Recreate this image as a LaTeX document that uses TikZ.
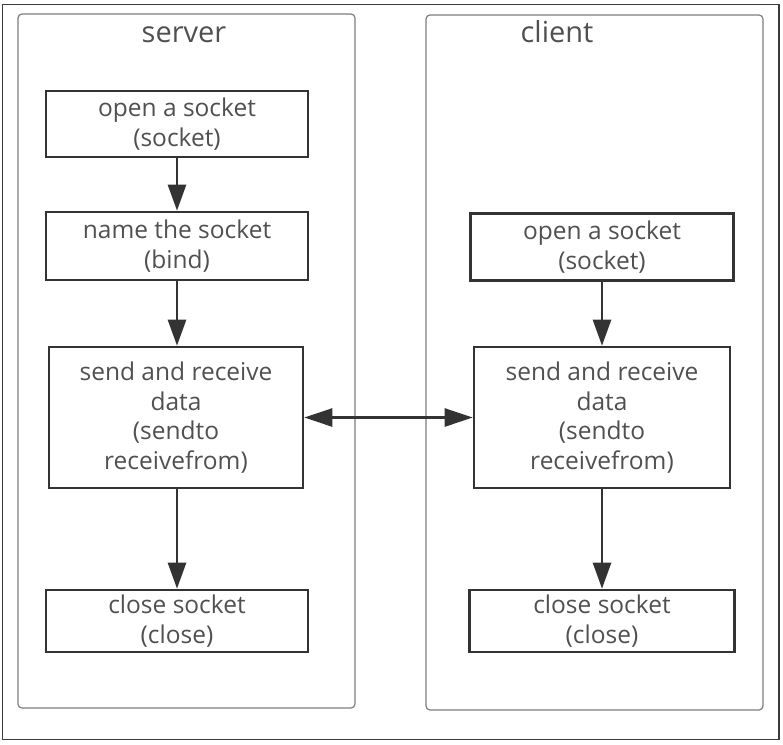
\documentclass[tikz,border=0pt]{standalone}
\usepackage{fontspec}
\setmainfont{Open Sans}
\usetikzlibrary{arrows.meta,positioning}
\definecolor{sockline} {RGB}{51,51,51}
\definecolor{socktext} {RGB}{80,80,80}
\definecolor{sockpanel}{RGB}{125,125,125}
\definecolor{sockframe}{RGB}{60,60,60}
\tikzset{
  sbox/.style={rectangle,draw=sockline,line width=2.6pt,text=socktext,
               minimum width=262pt,minimum height=66pt,inner sep=0pt,
               font=\fontsize{24.5}{29.5}\selectfont,align=center},
  panel/.style={rectangle,rounded corners=4pt,draw=sockpanel,line width=1.2pt,
                minimum width=337pt,minimum height=694pt,inner sep=0pt},
  title/.style={anchor=base,text=socktext,font=\fontsize{29}{32}\selectfont},
  flow/.style={-{Triangle[length=26pt,width=18pt]},line width=2.6pt,draw=sockline},
  both/.style={{Triangle[length=28pt,width=18pt]}-{Triangle[length=28pt,width=18pt]},
               line width=2.6pt,draw=sockline},
}
\begin{document}
\begin{tikzpicture}[x=1pt,y=-1pt]
    \useasboundingbox (0,0) rectangle (783,744);
    \draw[sockframe,line width=1.2pt] (2.5,4.5) rectangle (779,739.5);
    % the two sides
    \node[panel] (server) at (186.5,361) {};
    \node[panel,minimum height=695pt] (client) at (594.5,362.5) {};
    \node[title] (servert) at (184,42) {server};
    \node[title] (clientt) at (557,42) {client};
    % server side
    \node[sbox] (sopen) at (177,124) {open a socket\\(socket)};
    \node[sbox,minimum height=68pt] (sbind) at (177,246) {name the socket\\(bind)};
    \node[sbox,minimum width=254pt,minimum height=141pt]
      (sdata) at (176,417.5) {send and receive\\data\\(sendto\\receivefrom)};
    \node[sbox,minimum height=62pt] (sclose) at (177,621) {close socket\\(close)};
    % client side
    \node[sbox,minimum width=263pt,minimum height=67pt]
      (copen) at (602,247) {open a socket\\(socket)};
    \node[sbox,minimum width=256pt,minimum height=141pt]
      (cdata) at (602,417.5) {send and receive\\data\\(sendto\\receivefrom)};
    \node[sbox,minimum width=265pt,minimum height=62pt]
      (cclose) at (602,621) {close socket\\(close)};
    \draw[flow] (sopen)--(sbind);
    \draw[flow] (sbind)--(sbind|-sdata.north);
    \draw[flow] (sdata.south-|sbind)--(sclose);
    \draw[flow] (copen)--(copen|-cdata.north);
    \draw[flow] (cdata.south-|copen)--(cclose.north-|copen);
    \draw[both] (sdata.east)--(cdata.west);
  \end{tikzpicture}
\end{document}
